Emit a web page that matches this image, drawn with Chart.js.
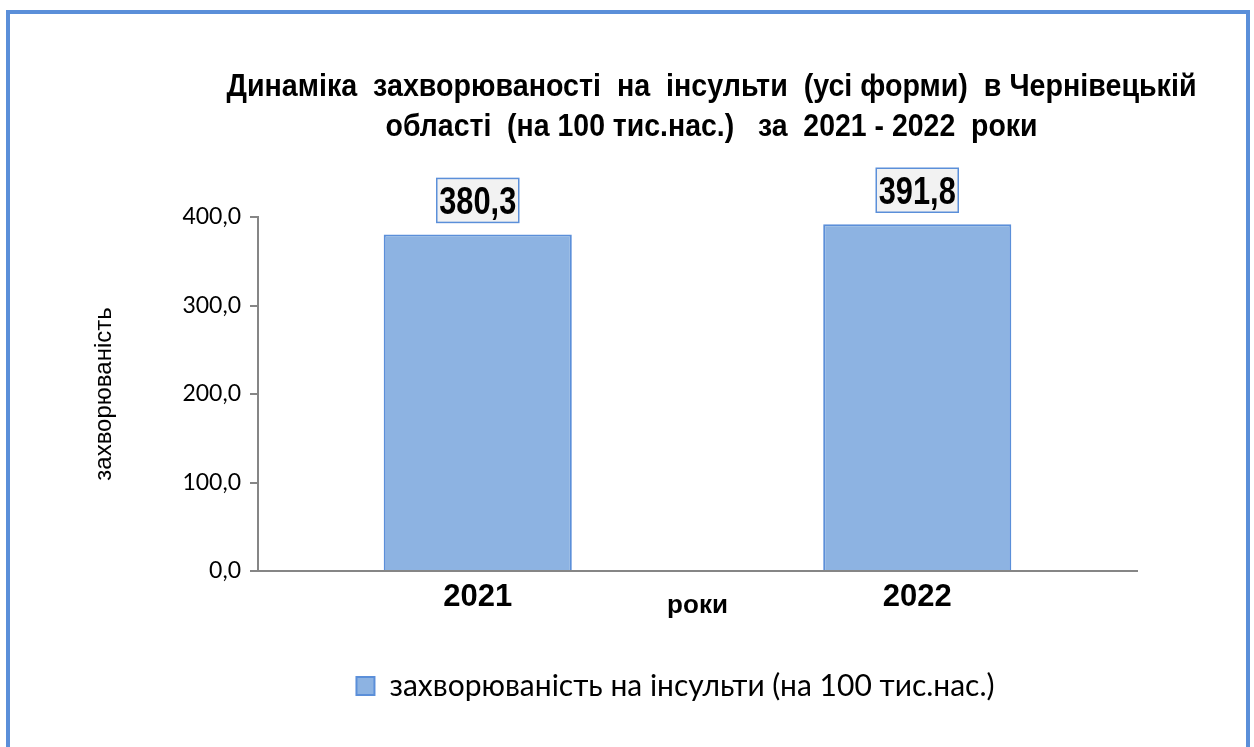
<!DOCTYPE html>
<html lang="uk">
<head>
<meta charset="utf-8">
<title>Динаміка захворюваності на інсульти</title>
<script src="https://cdn.jsdelivr.net/npm/chart.js@4.4.1/dist/chart.umd.min.js"></script>
<style>
  html, body { margin: 0; padding: 0; background: #fff; overflow: hidden; }
  #wrap { position: relative; width: 1254px; height: 747px; }
  #frame {
    position: absolute; left: 6px; top: 10px; width: 1236px; height: 760px;
    border: 4px solid #5b8fd9; pointer-events: none;
  }
</style>
</head>
<body>
<div id="wrap">
  <canvas id="stroke_chart"></canvas>
  <div id="frame"></div>
</div>
<script>
// data
const years = ["2021", "2022"];
const stroke_rate = [380.3, 391.8];
const series_label = "захворюваність на інсульти (на 100 тис.нас.)";
const title_lines = [
    "Динаміка  захворюваності  на  інсульти  (усі форми)  в Чернівецькій",
    "області  (на 100 тис.нас.)   за  2021 - 2022  роки"
];
const y_title = "захворюваність";
const x_title = "роки";

const fill_blue = "#8db3e2";
const edge_blue = "#5b8fd9";
const axis_grey = "#868686";

function comma_fixed(v)
{
    return Number(v).toFixed(1).replace(".", ",");
}

// title drawn by hand so it can sit a little right of centre like the original
const title_plugin =
{
    id: "two_line_title",
    afterDraw(chart)
    {
        const ctx = chart.ctx;
        const cx = (chart.chartArea.left + chart.chartArea.right) / 2 + 14;
        ctx.save();
        ctx.fillStyle = "#000";
        ctx.textAlign = "center";
        ctx.textBaseline = "alphabetic";
        ctx.font = "bold 32px 'Liberation Sans', Arial, sans-serif";
        ctx.fillText(title_lines[0], cx, 96, 970);
        ctx.fillText(title_lines[1], cx, 136, 652);
        ctx.restore();
    }
};

// the original legend sits right of the canvas centre
const legend_shift_plugin =
{
    id: "legend_shift",
    afterLayout(chart)
    {
        chart.legend.left += 67;
        chart.legend.right += 67;
    }
};

// value boxes above the bars
const value_box_plugin =
{
    id: "value_boxes",
    afterDatasetsDraw(chart)
    {
        const ctx = chart.ctx;
        const meta = chart.getDatasetMeta(0);
        ctx.save();
        ctx.font = "bold 39px 'Liberation Sans', Arial, sans-serif";
        ctx.textAlign = "center";
        ctx.textBaseline = "alphabetic";
        meta.data.forEach((bar, i) =>
        {
            const txt = comma_fixed(stroke_rate[i]);
            const w = 82, h = 44;
            const bottom = bar.y - 12;
            const left = bar.x - w / 2;
            ctx.fillStyle = "#f2f2f2";
            ctx.fillRect(left, bottom - h, w, h);
            ctx.strokeStyle = edge_blue;
            ctx.lineWidth = 1.5;
            ctx.strokeRect(left, bottom - h, w, h);
            ctx.fillStyle = "#000";
            ctx.fillText(txt, bar.x, bottom - h / 2 + 14, 77);
        });
        ctx.restore();
    }
};

const stroke_chart = new Chart("stroke_chart",
{
    type: "bar",
    data:
    {
        labels: years,
        datasets:
        [
            {
                label: series_label,
                data: stroke_rate,
                backgroundColor: fill_blue,
                borderColor: edge_blue,
                borderWidth: 2,
                barPercentage: 0.428,
                categoryPercentage: 1.0
            }
        ]
    },
    options:
    {
        animation: false,
        responsive: true,
        maintainAspectRatio: false,
        layout:
        {
            padding: { left: 80, right: 117, top: 217, bottom: 36 }
        },
        plugins:
        {
            title: { display: false },
            tooltip: { enabled: false },
            legend:
            {
                display: true,
                position: "bottom",
                labels:
                {
                    boxWidth: 18,
                    boxHeight: 18,
                    padding: 6,
                    color: "#000",
                    font: { family: "Lato", size: 30 }
                }
            }
        },
        scales:
        {
            x:
            {
                grid: { display: false },
                border: { display: true, color: axis_grey, width: 2 },
                ticks:
                {
                    color: "#000",
                    padding: 0,
                    font: { family: "'Liberation Sans', Arial, sans-serif", size: 31, weight: "bold" }
                },
                title:
                {
                    display: true,
                    text: x_title,
                    color: "#000",
                    padding: { top: 0, bottom: 44 },
                    font: { family: "'Liberation Sans', Arial, sans-serif", size: 26, weight: "bold" }
                },
                afterFit(scale) { scale.height = 94; }
            },
            y:
            {
                min: 0,
                max: 400,
                grid:
                {
                    display: true,
                    drawOnChartArea: false,
                    drawTicks: true,
                    tickLength: 8,
                    color: axis_grey,
                    lineWidth: 2
                },
                border: { display: true, color: axis_grey, width: 2 },
                ticks:
                {
                    stepSize: 100,
                    color: "#000",
                    padding: 9,
                    font: { family: "Lato", size: 23 },
                    callback: (v) => comma_fixed(v)
                },
                title:
                {
                    display: true,
                    text: y_title,
                    color: "#000",
                    padding: { top: 10, bottom: 0 },
                    font: { family: "'Liberation Sans', Arial, sans-serif", size: 24 }
                },
                afterFit(scale) { scale.width = 178; }
            }
        }
    },
    plugins: [title_plugin, legend_shift_plugin, value_box_plugin]
});
</script>
</body>
</html>
